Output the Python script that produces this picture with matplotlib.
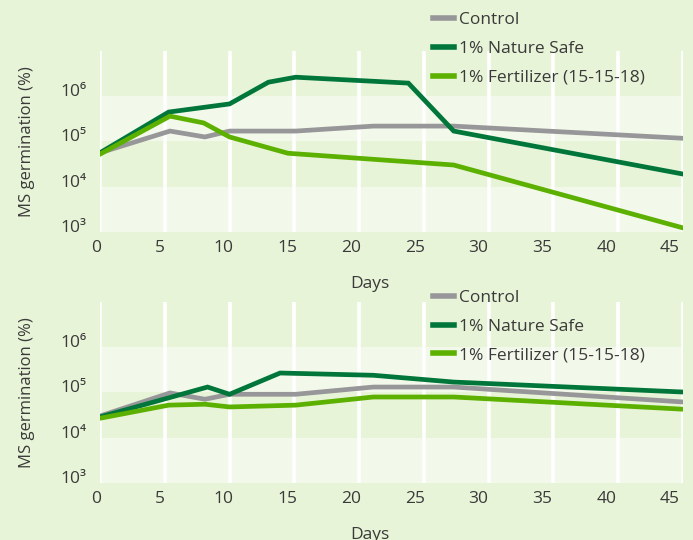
import numpy as np
import matplotlib.pyplot as plt
import matplotlib.transforms as mtransforms
from matplotlib.ticker import FixedLocator, FuncFormatter

plt.rcParams['font.family'] = ['Open Sans', 'DejaVu Sans']

# series (days, log10 values)
labels = ['Control', '1% Nature Safe', '1% Fertilizer (15-15-18)']
colors = ['#97979a', '#00763a', '#5cb000']

# top panel
top_control_days = [0, 5.4, 8.1, 10, 15.1, 21.1, 27.3, 45]
top_control_log = [4.75, 5.23, 5.10, 5.23, 5.23, 5.34, 5.34, 5.07]
top_nature_days = [0, 5.3, 10, 13, 15.1, 23.8, 27.3, 45]
top_nature_log = [4.75, 5.65, 5.83, 6.31, 6.42, 6.29, 5.23, 4.28]
top_fert_days = [0, 5.4, 8.0, 10, 14.5, 27.3, 45]
top_fert_log = [4.72, 5.56, 5.41, 5.10, 4.74, 4.48, 3.09]

# bottom panel
bot_control_days = [0, 5.4, 8.1, 10, 15.1, 21.1, 27.3, 45]
bot_control_log = [4.48, 4.99, 4.85, 4.96, 4.96, 5.12, 5.12, 4.79]
bot_nature_days = [0, 8.3, 10, 13.9, 21.1, 27.3, 45]
bot_nature_log = [4.46, 5.12, 4.96, 5.43, 5.38, 5.23, 5.01]
bot_fert_days = [0, 5.3, 8.1, 10, 15.1, 21.1, 27.3, 45]
bot_fert_log = [4.43, 4.72, 4.74, 4.68, 4.72, 4.90, 4.90, 4.63]

x_ticks = list(range(0, 50, 5))
y_ticks = [1e3, 1e4, 1e5, 1e6]
sup = {'3': '³', '4': '⁴', '5': '⁵', '6': '⁶'}

bg = '#e8f4d8'
band = '#f3f9ea'
txt = '#3a3a3a'
fs = 12.5

fig = plt.figure(figsize=(6.93, 5.40), dpi=100, facecolor=bg)
ax1 = fig.add_axes([0.1443, 0.5704, 0.8413, 0.3352])
ax2 = fig.add_axes([0.1443, 0.1056, 0.8413, 0.3352])

panels = [
    (ax1, [(top_control_days, top_control_log), (top_nature_days, top_nature_log), (top_fert_days, top_fert_log)], 0.990),
    (ax2, [(bot_control_days, bot_control_log), (bot_nature_days, bot_nature_log), (bot_fert_days, bot_fert_log)], 0.476),
]

for ax, series, leg_y in panels:
    ax.set_facecolor(bg)
    ax.set_yscale('log')
    ax.set_xlim(0, 45)
    ax.set_ylim(1e3, 1e7)
    # alternating bands
    ax.axhspan(1e3, 1e4, color=band, zorder=0, lw=0)
    ax.axhspan(1e5, 1e6, color=band, zorder=0, lw=0)
    for xt in x_ticks:
        ax.axvline(xt, color='white', lw=2.6, zorder=1)
    for (d, v), c, lab in zip(series, colors, labels):
        ax.plot(d, 10 ** np.array(v), color=c, lw=3.4, label=lab, zorder=3,
                solid_joinstyle='miter')
    for s in ax.spines.values():
        s.set_visible(False)
    ax.xaxis.set_major_locator(FixedLocator(x_ticks))
    ax.yaxis.set_major_locator(FixedLocator(y_ticks))
    ax.yaxis.set_minor_locator(FixedLocator([]))
    ax.yaxis.set_major_formatter(FuncFormatter(lambda v, p: '10' + sup[str(int(round(np.log10(v))))]))
    ax.tick_params(length=0, labelsize=fs, colors=txt, pad=6)
    ax.tick_params(axis='y', pad=10)
    fig.canvas.draw()
    for xt, t in zip(x_ticks, ax.get_xticklabels()):
        dx = -4 - 9 * xt / 45
        t.set_transform(t.get_transform() + mtransforms.ScaledTranslation(dx / 100, 0, fig.dpi_scale_trans))
    for t in ax.get_yticklabels():
        t.set_transform(t.get_transform() + mtransforms.ScaledTranslation(0, 6 / 100, fig.dpi_scale_trans))
    ax.set_ylabel('MS germination (%)', fontsize=12, color=txt)
    ax.yaxis.set_label_coords(-0.111, 0.5)
    ax.set_xlabel('Days', fontsize=fs, color=txt)
    ax.xaxis.set_label_coords(0.463, -0.245)
    leg = ax.legend(loc='upper left', bbox_to_anchor=(0.615, leg_y), bbox_transform=fig.transFigure,
                    frameon=False, fontsize=fs, handlelength=1.2, handletextpad=0.3,
                    labelspacing=0.72, borderaxespad=0)
    for t in leg.get_texts():
        t.set_color(txt)
    for h in leg.get_lines():
        h.set_linewidth(4)

fig.savefig('out.png', dpi=100, facecolor=bg)
